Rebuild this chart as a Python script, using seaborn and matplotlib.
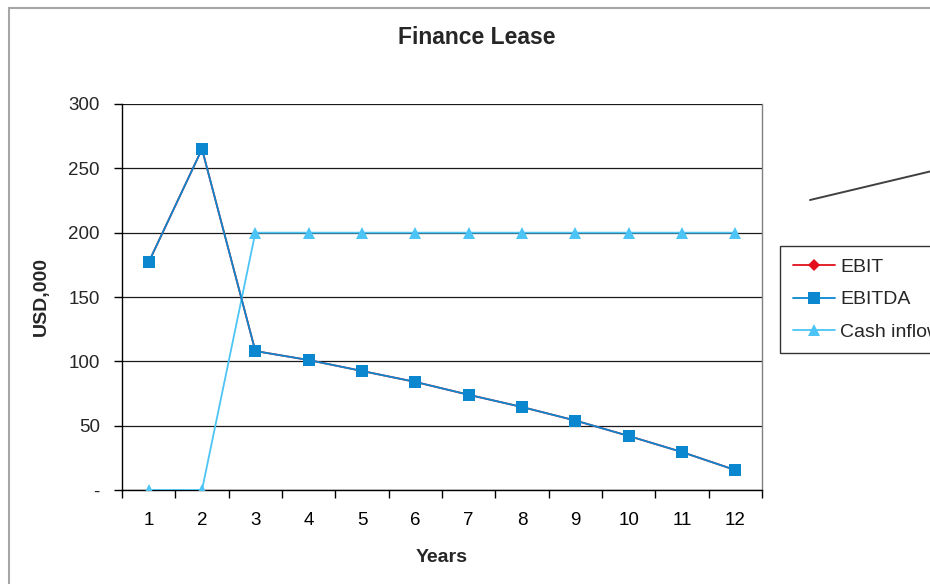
import matplotlib
matplotlib.use("Agg")
import matplotlib.pyplot as plt
import seaborn as sns
import pandas as pd
from matplotlib.lines import Line2D
from matplotlib.patches import Rectangle

# Series values (USD,000) per year
years = list(range(1, 13))
year_labels = [str(y) for y in years]
ebit = [177, 265, 108, 101, 92.5, 84, 74, 64.5, 54, 42, 29.5, 15.5]
ebitda = [177, 265, 108, 101, 92.5, 84, 74, 64.5, 54, 42, 29.5, 15.5]
cash_inflow = [0, 0, 200, 200, 200, 200, 200, 200, 200, 200, 200, 200]
y_ticks = [0, 50, 100, 150, 200, 250, 300]
y_tick_labels = ["-", "50", "100", "150", "200", "250", "300"]

sns.set_theme(style="white")
plt.rcParams["font.family"] = ["Liberation Sans", "DejaVu Sans"]

df = pd.DataFrame({"year": years, "EBIT": ebit, "EBITDA": ebitda,
                   "Cash inflow": cash_inflow})

W, H = 930, 584
fig = plt.figure(figsize=(W / 100, H / 100), dpi=100)
ax = fig.add_axes([122 / W, 1 - 490 / H, (762 - 122) / W, (490 - 104) / H])

styles = {
    "EBIT": dict(color="#E3101B", marker="D", markersize=6),
    "EBITDA": dict(color="#0A87CF", marker="s", markersize=8),
    "Cash inflow": dict(color="#4CC4F5", marker="^", markersize=8.5),
}
for name in ["EBIT", "Cash inflow", "EBITDA"]:
    st = styles[name]
    sns.lineplot(data=df, x="year", y=name, ax=ax, color=st["color"],
                 marker=st["marker"], markersize=st["markersize"],
                 markeredgewidth=0, linewidth=1.3, zorder=3, label=None)

ax.set_xlim(0.5, 12.5)
ax.set_ylim(0, 300)
ax.set_xticks(years)
ax.set_xticklabels(year_labels, fontsize=13.5)
ax.set_xticks([y + 0.5 for y in range(0, 13)], minor=True)
ax.tick_params(axis="x", which="major", length=0, pad=16, colors="black")
ax.tick_params(axis="x", which="minor", length=6, width=1, color="black",
               direction="out", bottom=True)
ax.set_yticks(y_ticks)
ax.set_yticklabels(y_tick_labels, fontsize=13.5)
ax.tick_params(axis="y", length=6, width=1, color="black", direction="out",
               left=True, pad=10)
ax.yaxis.grid(True, color="#1a1a1a", linewidth=0.9)
ax.set_axisbelow(True)

ax.spines["top"].set_visible(False)
ax.spines["left"].set_color("black")
ax.spines["left"].set_linewidth(1)
ax.spines["bottom"].set_color("black")
ax.spines["bottom"].set_linewidth(1)
ax.spines["right"].set_color("#808080")
ax.spines["right"].set_linewidth(1)

ax.set_xlabel("Years", fontsize=14, fontweight="bold", labelpad=14)
ax.set_ylabel("USD,000", fontsize=14, fontweight="bold", labelpad=13)
fig.text(477 / W, 1 - 38 / H, "Finance Lease", ha="center", va="center",
         fontsize=16.5, fontweight="bold")

# Outer chart frame
fig.patches.append(Rectangle((9 / W, -0.1), 1.2, 1 - 8 / H + 0.1,
                             transform=fig.transFigure, fill=False,
                             edgecolor="#A6A6A6", linewidth=1.5))

# Connector line at the right
fig.add_artist(Line2D([810 / W, 932 / W], [1 - 200 / H, 1 - 171 / H],
                      transform=fig.transFigure, color="#404040", linewidth=1.4))

handles = [Line2D([], [], color=styles[n]["color"], marker=styles[n]["marker"],
                  markersize=styles[n]["markersize"], markeredgewidth=0,
                  linewidth=1.3)
           for n in ["EBIT", "EBITDA", "Cash inflow"]]
leg = fig.legend(handles, ["EBIT", "EBITDA", "Cash inflow"],
                 loc="upper left", bbox_to_anchor=(780 / W, 1 - 246 / H),
                 fontsize=14, frameon=True, fancybox=False, handlelength=2.2,
                 handletextpad=0.25, borderpad=0.65, labelspacing=0.75,
                 borderaxespad=0)
leg.get_frame().set_edgecolor("black")
leg.get_frame().set_linewidth(1)

fig.savefig("out.png", dpi=100)
